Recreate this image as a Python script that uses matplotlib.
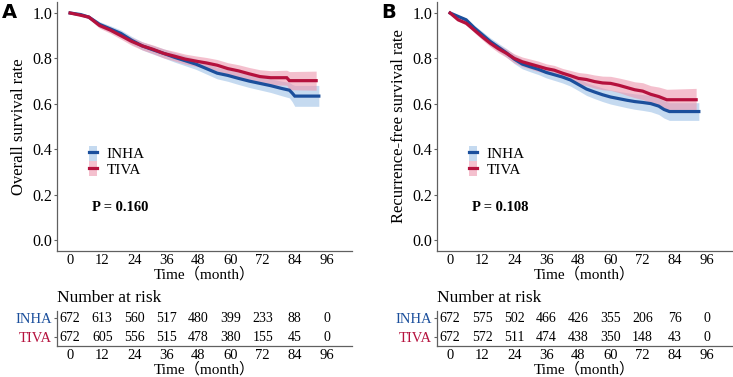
import matplotlib
matplotlib.use('Agg')
import matplotlib.pyplot as plt
from matplotlib.patches import Rectangle
from matplotlib.lines import Line2D

plt.rcParams['font.family'] = ['Liberation Serif', 'Noto Sans CJK SC']

# ---- data ----
groups = ['INHA', 'TIVA']
risk_times = [0, 12, 24, 36, 48, 60, 72, 84, 96]

# Panel A: overall survival
os_inha_t = [0, 4, 7, 11, 15, 19, 23, 27, 31, 35, 39, 43, 47, 51, 55, 59, 63, 67, 71, 75, 79, 82, 83, 84, 93]
os_inha_s = [1.0, 0.993, 0.982, 0.95, 0.93, 0.91, 0.88, 0.855, 0.838, 0.822, 0.805, 0.79, 0.775, 0.755, 0.735,
             0.725, 0.712, 0.70, 0.69, 0.68, 0.668, 0.66, 0.648, 0.634, 0.634]
os_inha_lo = [1.0, 0.988, 0.974, 0.938, 0.916, 0.895, 0.863, 0.837, 0.819, 0.802, 0.784, 0.768, 0.752, 0.731, 0.71,
              0.699, 0.685, 0.672, 0.661, 0.65, 0.636, 0.626, 0.61, 0.589, 0.589]
os_inha_hi = [1.0, 0.998, 0.99, 0.962, 0.944, 0.925, 0.897, 0.873, 0.857, 0.842, 0.826, 0.812, 0.798, 0.779, 0.76,
              0.751, 0.739, 0.728, 0.719, 0.71, 0.70, 0.694, 0.686, 0.681, 0.681]

os_tiva_t = [0, 4, 7, 11, 15, 19, 23, 27, 31, 35, 39, 43, 47, 51, 55, 59, 63, 67, 71, 75, 81, 82, 92]
os_tiva_s = [1.0, 0.99, 0.982, 0.945, 0.925, 0.90, 0.875, 0.855, 0.84, 0.822, 0.81, 0.797, 0.788, 0.78, 0.77,
             0.755, 0.745, 0.732, 0.72, 0.715, 0.715, 0.702, 0.702]
os_tiva_lo = [1.0, 0.985, 0.974, 0.933, 0.911, 0.885, 0.858, 0.837, 0.821, 0.802, 0.789, 0.775, 0.765, 0.756, 0.745,
              0.729, 0.718, 0.704, 0.69, 0.684, 0.682, 0.662, 0.660]
os_tiva_hi = [1.0, 0.995, 0.99, 0.957, 0.939, 0.915, 0.892, 0.873, 0.859, 0.842, 0.831, 0.819, 0.811, 0.804, 0.795,
              0.781, 0.772, 0.76, 0.75, 0.746, 0.748, 0.742, 0.744]

# Panel B: recurrence-free survival
rfs_inha_t = [0, 3, 6, 9, 12, 15, 18, 21, 24, 27, 30, 33, 36, 39, 42, 45, 48, 51, 54, 57, 60, 63, 66, 69, 72,
              75, 78, 80, 82, 93]
rfs_inha_s = [1.0, 0.985, 0.97, 0.935, 0.905, 0.875, 0.85, 0.825, 0.797, 0.775, 0.763, 0.752, 0.738, 0.728, 0.718,
              0.705, 0.685, 0.665, 0.652, 0.64, 0.63, 0.623, 0.616, 0.61, 0.606, 0.601, 0.59, 0.575, 0.566, 0.566]
rfs_inha_lo = [1.0, 0.98, 0.962, 0.924, 0.891, 0.859, 0.833, 0.806, 0.777, 0.754, 0.741, 0.729, 0.714, 0.703, 0.692,
               0.678, 0.658, 0.637, 0.623, 0.61, 0.599, 0.591, 0.583, 0.576, 0.571, 0.565, 0.553, 0.537, 0.527, 0.527]
rfs_inha_hi = [1.0, 0.99, 0.978, 0.946, 0.919, 0.891, 0.867, 0.844, 0.817, 0.796, 0.785, 0.775, 0.762, 0.753, 0.744,
               0.732, 0.712, 0.693, 0.681, 0.67, 0.661, 0.655, 0.649, 0.644, 0.641, 0.637, 0.627, 0.613, 0.605, 0.605]

rfs_tiva_t = [0, 3, 6, 9, 12, 15, 18, 21, 24, 27, 30, 33, 36, 39, 42, 45, 48, 51, 54, 57, 60, 63, 66, 69, 72,
              75, 78, 81, 92]
rfs_tiva_s = [1.0, 0.97, 0.955, 0.925, 0.895, 0.867, 0.843, 0.823, 0.8, 0.785, 0.775, 0.765, 0.755, 0.748, 0.735,
              0.724, 0.712, 0.707, 0.698, 0.692, 0.69, 0.682, 0.672, 0.662, 0.656, 0.642, 0.632, 0.618, 0.618]
rfs_tiva_lo = [1.0, 0.964, 0.947, 0.914, 0.882, 0.852, 0.826, 0.805, 0.78, 0.764, 0.753, 0.742, 0.734, 0.727, 0.714,
               0.701, 0.686, 0.68, 0.669, 0.662, 0.659, 0.65, 0.638, 0.627, 0.619, 0.604, 0.59, 0.572, 0.568]
rfs_tiva_hi = [1.0, 0.976, 0.963, 0.936, 0.908, 0.882, 0.86, 0.841, 0.82, 0.806, 0.797, 0.788, 0.776, 0.769, 0.756,
               0.747, 0.738, 0.734, 0.727, 0.722, 0.721, 0.714, 0.706, 0.697, 0.693, 0.68, 0.674, 0.664, 0.668]

os_risk_inha = [672, 613, 560, 517, 480, 399, 233, 88, 0]
os_risk_tiva = [672, 605, 556, 515, 478, 380, 155, 45, 0]
rfs_risk_inha = [672, 575, 502, 466, 426, 355, 206, 76, 0]
rfs_risk_tiva = [672, 572, 511, 474, 438, 350, 148, 43, 0]

# ---- style ----
line_col = {'INHA': '#1B4F9C', 'TIVA': '#B5113D'}
band_col = {'INHA': '#9FC2E7', 'TIVA': '#EE97AE'}
spine_col = '#606060'
W, H = 733, 377


def style_axis(ax):
    for s in ['top', 'right']:
        ax.spines[s].set_visible(False)
    for s in ['left', 'bottom']:
        ax.spines[s].set_color(spine_col)
        ax.spines[s].set_linewidth(0.9)


def plot_km(ax, curves, ylabel, pval):
    for name, (t, s, lo, hi) in zip(groups, curves):
        ax.fill_between(t, lo, hi, color=band_col[name], alpha=0.6, lw=0)
    for name, (t, s, lo, hi) in zip(groups, curves):
        ax.plot(t, s, color=line_col[name], lw=2.3, solid_joinstyle='miter')
    ax.set_xlim(-4.9, 105.4)
    ax.set_ylim(-0.05, 1.05)
    ax.set_xticks(risk_times)
    ax.set_yticks([0, 0.2, 0.4, 0.6, 0.8, 1.0])
    ax.set_yticklabels(['0.0', '0.2', '0.4', '0.6', '0.8', '1.0'])
    ax.tick_params(axis='y', length=2.5, width=0.8, color=spine_col, labelsize=11.5, pad=1)
    ax.tick_params(axis='x', length=0, labelsize=10.5, pad=2)
    ax.set_ylabel(ylabel, fontsize=12, labelpad=4)
    ax.set_xlabel('Time（month）', fontsize=11, labelpad=0)
    style_axis(ax)
    handles = [(Rectangle((0, 0), 1, 1, facecolor=band_col[n], alpha=0.6, lw=0),
                Line2D([], [], color=line_col[n], lw=2.3)) for n in groups]
    ax.legend(handles, groups, loc='center left', bbox_to_anchor=(0.11, 0.36), frameon=False,
              fontsize=11, handlelength=0.5, handleheight=1.1, handletextpad=0.6, labelspacing=0.0,
              borderpad=0, borderaxespad=0)
    ax.text(8.2, 0.145, pval, fontsize=10.5, fontweight='bold', ha='left', va='center')


def plot_table(ax, rows):
    for yi, (name, vals) in enumerate(zip(groups, rows)):
        y = 1 - yi
        for t, v in zip(risk_times, vals):
            ax.text(t, y, str(v), ha='center', va='center', fontsize=10)
    ax.set_xlim(-4.9, 105.4)
    ax.set_ylim(-0.473, 1.369)
    ax.set_xticks(risk_times)
    ax.set_yticks([1, 0])
    ax.set_yticklabels(groups)
    for lab, name in zip(ax.get_yticklabels(), groups):
        lab.set_color(line_col[name])
    ax.tick_params(axis='y', length=2.5, width=0.8, color=spine_col, labelsize=10.5, pad=1)
    ax.tick_params(axis='x', length=0, labelsize=10.5, pad=2)
    ax.set_xlabel('Time（month）', fontsize=11, labelpad=0)
    ax.text(0, 1.37, 'Number at risk', transform=ax.transAxes, ha='left', va='center', fontsize=12.5)
    style_axis(ax)


fig = plt.figure(figsize=(W / 100, H / 100), dpi=100)

main_w = 295 / W
main_b = 1 - 251.4 / H
main_h = 249.75 / H
tab_b = 1 - 346 / H
tab_h = 35 / H

axA = fig.add_axes([57 / W, main_b, main_w, main_h])
axB = fig.add_axes([437 / W, main_b, main_w, main_h])
tabA = fig.add_axes([57 / W, tab_b, main_w, tab_h])
tabB = fig.add_axes([437 / W, tab_b, main_w, tab_h])

plot_km(axA, [(os_inha_t, os_inha_s, os_inha_lo, os_inha_hi),
              (os_tiva_t, os_tiva_s, os_tiva_lo, os_tiva_hi)],
        'Overall survival rate', 'P = 0.160')
plot_km(axB, [(rfs_inha_t, rfs_inha_s, rfs_inha_lo, rfs_inha_hi),
              (rfs_tiva_t, rfs_tiva_s, rfs_tiva_lo, rfs_tiva_hi)],
        'Recurrence-free survival rate', 'P = 0.108')
plot_table(tabA, [os_risk_inha, os_risk_tiva])
plot_table(tabB, [rfs_risk_inha, rfs_risk_tiva])

fig.text(2 / W, 1 - 13 / H, 'A', family='DejaVu Sans', fontweight='bold', fontsize=14, ha='left', va='center')
fig.text(381 / W, 1 - 13 / H, 'B', family='DejaVu Sans', fontweight='bold', fontsize=14, ha='left', va='center')

fig.savefig('out.png', dpi=100)
